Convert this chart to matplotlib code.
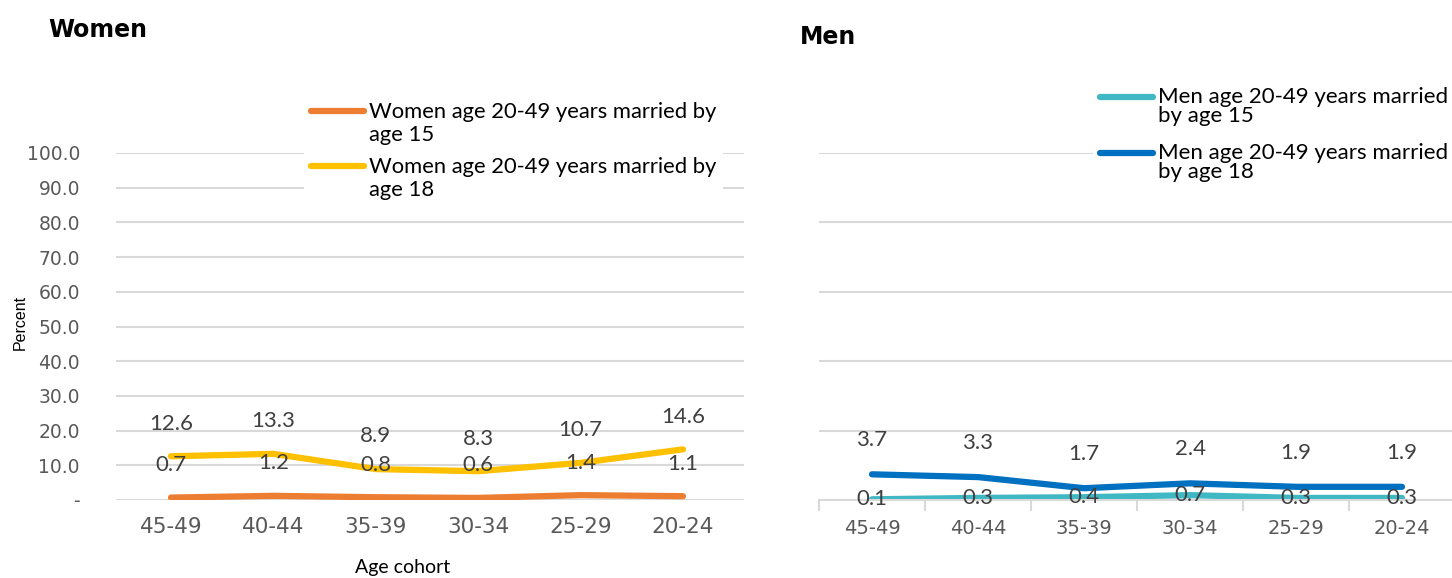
import numpy as np
import matplotlib
matplotlib.use("Agg")
import matplotlib.pyplot as plt
from matplotlib.legend_handler import HandlerLine2D

# data
cohorts = ["45-49", "40-44", "35-39", "30-34", "25-29", "20-24"]
women_by15 = [0.7, 1.2, 0.8, 0.6, 1.4, 1.1]
women_by18 = [12.6, 13.3, 8.9, 8.3, 10.7, 14.6]
men_by15 = [0.1, 0.3, 0.4, 0.7, 0.3, 0.3]
men_by18 = [3.7, 3.3, 1.7, 2.4, 1.9, 1.9]

women_labels = ["Women age 20-49 years married by\nage 15",
                "Women age 20-49 years married by\nage 18"]
men_labels = ["Men age 20-49 years married\nby age 15",
              "Men age 20-49 years married\nby age 18"]

ORANGE = "#ED7D31"
YELLOW = "#FFC000"
CYAN = "#3FB8C4"
BLUE = "#0070C0"
GRID = "#D9D9D9"
GRAY = "#595959"

plt.rcParams['font.family'] = ['DejaVu Sans']
LABEL_FONT = ['Lato', 'DejaVu Sans']

W, H = 1452, 578
fig = plt.figure(figsize=(W / 100, H / 100), dpi=100)


class TopLineHandler(HandlerLine2D):
    # put the legend line next to the first text line, like excel does
    def __init__(self, shift, **kw):
        super().__init__(**kw)
        self.shift = shift

    def create_artists(self, legend, orig_handle, xdescent, ydescent,
                       width, height, fontsize, trans):
        arts = super().create_artists(legend, orig_handle, xdescent, ydescent,
                                      width, height, fontsize, trans)
        for a in arts:
            a.set_ydata(np.asarray(a.get_ydata()) + self.shift)
        return arts


def px_axes(x0, x1, y0, y1):
    # pixel box (top-left origin) -> figure axes
    return fig.add_axes([x0 / W, 1 - y1 / H, (x1 - x0) / W, (y1 - y0) / H])


x = np.arange(len(cohorts))

# ---------- Women ----------
ax1 = px_axes(116, 744, 153, 500)
ax1.set_ylim(0, 100)
ax1.set_xlim(-0.537, 5.596)
ax1.set_yticks(np.arange(0, 101, 10))
ax1.set_yticklabels(["-"] + [f"{v:.1f}" for v in np.arange(10, 101, 10)])
ax1.yaxis.grid(True, color=GRID, lw=1.5)
ax1.set_axisbelow(True)
for s in ax1.spines.values():
    s.set_visible(False)
ax1.tick_params(axis="both", length=0, labelcolor=GRAY)
ax1.tick_params(axis="y", pad=26, labelsize=13.5)
ax1.tick_params(axis="x", pad=12, labelsize=15.5)
ax1.set_xticks(x)
ax1.set_xticklabels(cohorts)

l1, = ax1.plot(x, women_by15, color=ORANGE, lw=4.5, solid_capstyle="round")
l2, = ax1.plot(x, women_by18, color=YELLOW, lw=4.5, solid_capstyle="round")
for xi, v in zip(x, women_by15):
    ax1.annotate(f"{v:.1f}", (xi, v), xytext=(0, 23.5), textcoords="offset points",
                 ha="center", va="center", fontsize=16, color="#404040",
                 family=LABEL_FONT)
for xi, v in zip(x, women_by18):
    ax1.annotate(f"{v:.1f}", (xi, v), xytext=(0, 23.5), textcoords="offset points",
                 ha="center", va="center", fontsize=16, color="#404040",
                 family=LABEL_FONT)

fig.text(20 / W, 1 - 322 / H, "Percent", rotation=90, fontsize=11.5,
         ha="center", va="center", family=['Liberation Sans', 'DejaVu Sans'])
fig.text(403 / W, 1 - 568 / H, "Age cohort", fontsize=14,
         ha="center", va="center", family=LABEL_FONT)

leg1 = ax1.legend([l1, l2], women_labels, loc="upper left",
                  bbox_to_anchor=((293 - 116) / 628, 1 + (153 - 84) / 347),
                  frameon=True, fancybox=False, edgecolor="none", framealpha=1,
                  prop={"family": LABEL_FONT, "size": 15.8},
                  handlelength=2.45, handletextpad=0.22,
                  labelspacing=0.55, borderpad=0.3,
                  handler_map={l1: TopLineHandler(9), l2: TopLineHandler(9)})
for t in leg1.get_texts():
    t.set_linespacing(1.2)

fig.text(48 / W, 1 - 30 / H, "Women", fontsize=17, fontweight="bold",
         ha="left", va="center")

# ---------- Men ----------
ax2 = px_axes(819, 1455, 153, 500)
ax2.set_ylim(0, 50)
ax2.set_xlim(-0.5, 5.5)
ax2.set_yticks(np.arange(0, 51, 10))
ax2.set_yticklabels([])
ax2.yaxis.grid(True, color=GRID, lw=1.5)
ax2.set_axisbelow(True)
for s in ax2.spines.values():
    s.set_visible(False)
ax2.spines["bottom"].set_visible(True)
ax2.spines["bottom"].set_color(GRID)
ax2.spines["bottom"].set_linewidth(1.5)
ax2.tick_params(axis="y", length=0)
ax2.set_xticks(x)
ax2.set_xticklabels(cohorts)
ax2.set_xticks(np.arange(-0.5, 6, 1), minor=True)
ax2.tick_params(axis="x", which="major", length=0, labelsize=14,
                labelcolor=GRAY, pad=14)
ax2.tick_params(axis="x", which="minor", length=8, color=GRID, width=1.5)

m1, = ax2.plot(x, men_by15, color=CYAN, lw=4.5, solid_capstyle="round")
m2, = ax2.plot(x, men_by18, color=BLUE, lw=4.5, solid_capstyle="round")
for xi, v in zip(x, men_by15):
    ax2.annotate(f"{v:.1f}", (xi, v), xytext=(0, 0), textcoords="offset points",
                 ha="center", va="center", fontsize=16, color="#404040",
                 family=LABEL_FONT)
for xi, v in zip(x, men_by18):
    ax2.annotate(f"{v:.1f}", (xi, v), xytext=(0, 24.5), textcoords="offset points",
                 ha="center", va="center", fontsize=16, color="#404040",
                 family=LABEL_FONT)

leg2 = ax2.legend([m1, m2], men_labels, loc="upper left",
                  bbox_to_anchor=((1082 - 819) / 636, 1 + (153 - 69) / 347),
                  frameon=True, fancybox=False, edgecolor="none", framealpha=1,
                  prop={"family": LABEL_FONT, "size": 16},
                  handlelength=2.4, handletextpad=0.22,
                  labelspacing=0.75, borderpad=0.3,
                  handler_map={m1: TopLineHandler(7), m2: TopLineHandler(7)})
for t in leg2.get_texts():
    t.set_linespacing(0.95)

fig.text(800 / W, 1 - 37 / H, "Men", fontsize=17, fontweight="bold",
         ha="left", va="center")

fig.savefig("out.png", dpi=100)
